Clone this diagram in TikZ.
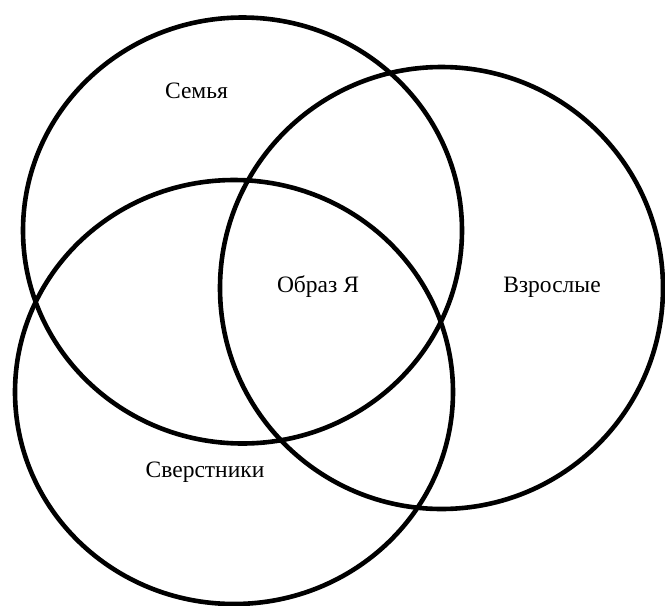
\documentclass[tikz,border=0pt]{standalone}
\usepackage{fontspec}
\setmainfont{Liberation Serif}
\usetikzlibrary{shapes.geometric}
\begin{document}
\begin{tikzpicture}[x=1pt,y=-1pt,
  ring/.style={draw=black,line width=4.6pt,ellipse,inner sep=0pt,outer sep=0pt},
  lbl/.style={anchor=base,inner sep=0pt,font=\fontsize{23.5}{27}\selectfont}]
\useasboundingbox (0,0) rectangle (665,606);
\node[ring,minimum width=439pt,minimum height=426pt] (fam) at (242.5,230.5) {};
\node[ring,minimum width=443pt,minimum height=442pt] (adu) at (441.5,288) {};
\node[ring,minimum width=438pt,minimum height=424pt] (peer) at (234,392) {};
\node[lbl] (tfam) at (196.5,98) {Семья};
\node[lbl] (tself) at (318,292) {Образ Я};
\node[lbl] (tadu) at (552,292) {Взрослые};
\node[lbl] (tpeer) at (205,477) {Сверстники};
\end{tikzpicture}
\end{document}
